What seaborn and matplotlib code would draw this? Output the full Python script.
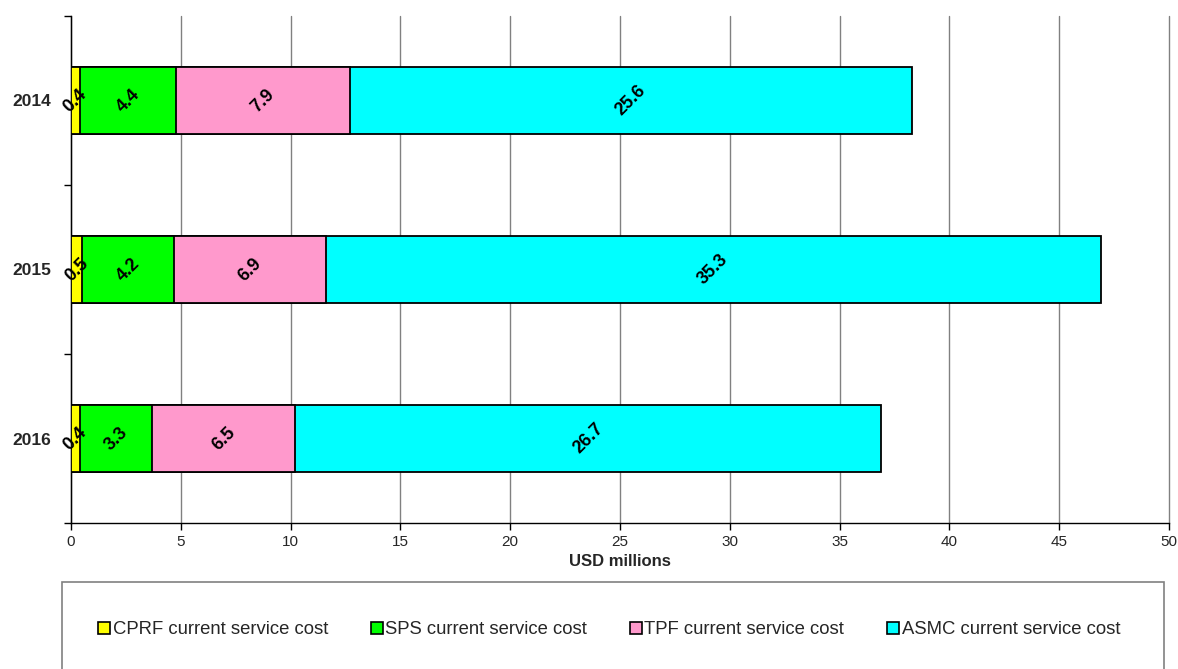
import pandas as pd
import numpy as np
import seaborn as sns
import matplotlib.pyplot as plt
from matplotlib.patches import Patch, Rectangle

years = ['2014', '2015', '2016']
series = ['CPRF current service cost', 'SPS current service cost',
          'TPF current service cost', 'ASMC current service cost']
cprf = [0.4, 0.5, 0.4]
sps = [4.4, 4.2, 3.3]
tpf = [7.9, 6.9, 6.5]
asmc = [25.6, 35.3, 26.7]
colors = ['#FFFF00', '#00FF00', '#FF99CC', '#00FFFF']

df = pd.DataFrame({'year': years, series[0]: cprf, series[1]: sps,
                   series[2]: tpf, series[3]: asmc})
cum = df[series].cumsum(axis=1)

sns.set_style('white')
plt.rcParams['font.family'] = ['Liberation Sans', 'DejaVu Sans']

fig = plt.figure(figsize=(11.78, 6.69), dpi=100)
ax = fig.add_axes([0.0603, 0.2182, 0.932, 0.758])

# stacked bars: draw cumulative totals from largest to smallest
for name, col in reversed(list(zip(series, colors))):
    sns.barplot(x=cum[name], y=df['year'], orient='h', order=years,
                color=col, edgecolor='black', linewidth=1.3, width=0.4,
                saturation=1, ax=ax, zorder=3)

# value labels
for i, yr in enumerate(years):
    left = 0
    for name in series:
        v = df.loc[i, name]
        ax.text(left + v / 2, i, f'{v:.1f}', rotation=45, ha='center', va='center',
                fontsize=13, fontweight='bold', color='black', zorder=5)
        left += v

ax.set_xlim(0, 50)
ax.set_ylim(2.5, -0.5)
ax.set_xticks(np.arange(0, 51, 5))
ax.xaxis.grid(True, color='#808080', linewidth=1)
for gl in ax.get_xgridlines():
    gl.set_clip_on(False)
ax.yaxis.grid(False)
ax.set_axisbelow(True)
ax.tick_params(axis='x', labelsize=11, length=5, width=1, color='black', direction='out', bottom=True)
ax.set_yticks([0, 1, 2])
ax.set_yticklabels(years, fontsize=12.5, fontweight='bold')
ax.tick_params(axis='y', which='major', length=0, pad=14)
ax.set_yticks([-0.5, 0.5, 1.5, 2.5], minor=True)
ax.tick_params(axis='y', which='minor', length=5, width=1, color='black', left=True)
ax.set_xlabel('USD millions', fontsize=12, fontweight='bold', labelpad=4)
ax.set_ylabel('')
for s in ['top', 'right']:
    ax.spines[s].set_visible(False)
for s in ['left', 'bottom']:
    ax.spines[s].set_color('black')
    ax.spines[s].set_linewidth(1)

# legend box
fig.patches.append(Rectangle((62 / 1178, -0.01), (1164 - 62) / 1178, 1 - 582 / 669 + 0.01,
                             transform=fig.transFigure, fill=False,
                             edgecolor='#808080', linewidth=1.2))
handles = [Patch(facecolor=c, edgecolor='black', linewidth=1.2) for c in colors]
fig.legend(handles, series, loc='center', bbox_to_anchor=(609 / 1178, 1 - 630 / 669),
           ncol=4, frameon=False, fontsize=13.3, handlelength=0.65, handleheight=0.65,
           handletextpad=0.15, columnspacing=2.3)

fig.savefig('out.png', dpi=100)
